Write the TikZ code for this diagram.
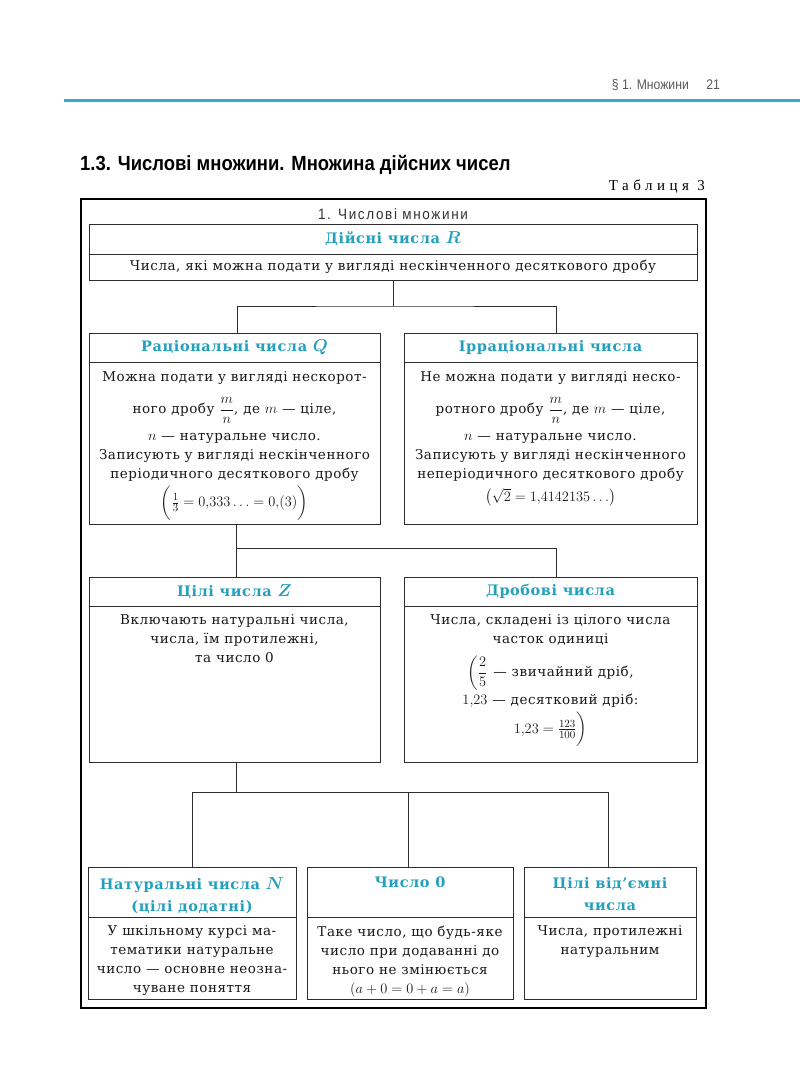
\documentclass[tikz,border=0pt]{standalone}
\usepackage{fontspec}
\usepackage{amsmath}
\setmainfont{DejaVu Serif}[LetterSpace=4]
\newfontfamily\myCond[FakeStretch=0.87]{Liberation Sans}
\newfontfamily\myTitle[FakeStretch=0.9]{Liberation Sans}
\newfontfamily\myCondSp[FakeStretch=0.9,LetterSpace=11]{Liberation Sans}
\newfontfamily\mySpaced[LetterSpace=30]{Liberation Serif}
\DeclareMathSizes{13.5}{15.5}{11}{9}
\DeclareMathSizes{14.5}{16}{12}{10}
\usetikzlibrary{calc}
\definecolor{tealA}{RGB}{35,160,190}
\definecolor{tealLine}{RGB}{55,172,200}
\definecolor{lineC}{RGB}{45,45,45}
\definecolor{textC}{RGB}{25,25,25}
\newcommand\myBody{\fontsize{13.5pt}{19pt}\selectfont}
\newcommand\myHead{\bfseries\fontsize{14.5pt}{22pt}\selectfont\boldmath}
\begin{document}
\begin{tikzpicture}[x=1pt,y=-1pt,
  box/.style={draw=lineC, line width=0.9pt, inner sep=0pt, outer sep=0pt, anchor=north west},
  hbox/.style={box, text=tealA, font=\myHead, align=center},
  htext/.style={text=tealA, font=\myHead, align=center, inner sep=0pt, anchor=north},
  btext/.style={text=textC, font=\myBody, align=center, inner sep=0pt, anchor=north},
  conn/.style={draw=lineC, line width=0.9pt}]
\useasboundingbox[fill=white] (0,0) rectangle (800,1082);

% page header
\draw[tealLine, line width=3pt] (64,100) -- (800,100);
\node[anchor=base east, inner sep=0pt, text=black!65, font=\myCond\fontsize{14pt}{16pt}\selectfont] (ph) at (689,89) {§ 1. Множини};
\node[anchor=base east, inner sep=0pt, text=black!65, font=\myCond\fontsize{14pt}{16pt}\selectfont] (pn) at (720,89) {21};

% title
\node[anchor=base west, inner sep=0pt, text=black, font=\myTitle\bfseries\fontsize{20.5pt}{24pt}\selectfont] (title) at (80,170) {1.3. Числові множини. Множина дійсних чисел};
\node[anchor=base east, inner sep=0pt, text=black, font=\mySpaced\fontsize{15pt}{17pt}\selectfont] (tab) at (705,190) {Таблиця 3};

% frame
\node[draw=black, line width=2.4pt, inner sep=0pt, anchor=north west, minimum width=625pt, minimum height=809pt] (frame) at (80,198) {};
\node[anchor=base, inner sep=0pt, text=black!80, font=\myCondSp\fontsize{15pt}{17pt}\selectfont] (ftitle) at (393,219) {1. Числові множини};

% real numbers
\node[hbox, minimum width=608pt, minimum height=30pt] (rh) at (89,224) {Дійсні числа $R$};
\node[box, minimum width=608pt, minimum height=26pt] (rb) at (89,254) {};
\node[btext, anchor=center] (rbt) at (rb.center) {Числа, які можна подати у вигляді нескінченного десяткового дробу};

% rational
\node[hbox, minimum width=291pt, minimum height=29pt] (qh) at (89,333) {Раціональні числа $Q$};
\node[box, minimum width=291pt, minimum height=162pt] (qb) at (89,362) {};
\node[btext] (qbt) at ($(qb.north)+(0,9.5)$) {Можна подати у вигляді нескорот-\\[13pt]
ного дробу $\dfrac{m}{n}$, де $m$ — ціле,\\[8pt]
$n$ — натуральне число.\\
Записують у вигляді нескінченного\\
періодичного десяткового дробу\\[3pt]
$\biggl(\frac{1}{3}=0{,}333\ldots=0{,}(3)\biggr)$};

% irrational
\node[hbox, minimum width=293pt, minimum height=29pt] (ih) at (404,333) {Ірраціональні числа};
\node[box, minimum width=293pt, minimum height=162pt] (ib) at (404,362) {};
\node[btext] (ibt) at ($(ib.north)+(0,9.5)$) {Не можна подати у вигляді неско-\\[13pt]
ротного дробу $\dfrac{m}{n}$, де $m$ — ціле,\\[8pt]
$n$ — натуральне число.\\
Записують у вигляді нескінченного\\
неперіодичного десяткового дробу\\[4pt]
$\bigl(\sqrt{2}=1{,}4142135\ldots\bigr)$};

% integers
\node[hbox, minimum width=291pt, minimum height=29pt] (zh) at (89,577) {Цілі числа $Z$};
\node[box, minimum width=291pt, minimum height=156pt] (zb) at (89,606) {};
\node[btext] (zbt) at ($(zb.north)+(0,8.5)$) {Включають натуральні числа,\\
числа, їм протилежні,\\
та число 0};

% fractions
\node[hbox, minimum width=293pt, minimum height=29pt] (fh) at (404,577) {Дробові числа};
\node[box, minimum width=293pt, minimum height=156pt] (fb) at (404,606) {};
\node[btext] (fbt) at ($(fb.north)+(0,8.5)$) {Числа, складені із цілого числа\\
часток одиниці\\[9pt]
$\left(\dfrac{2}{5}\right.$ — звичайний дріб,\\[3pt]
$1{,}23$ — десятковий дріб:\\[4pt]
$1{,}23=\frac{123}{100}\biggr)$};

% bottom row
\node[box, minimum width=208pt, minimum height=50pt] (nh) at (88,867) {};
\node[htext] (nht) at ($(nh.north)+(0,10)$) {Натуральні числа $N$\\(цілі додатні)};
\node[box, minimum width=208pt, minimum height=82pt] (nb) at (88,917) {};
\node[btext] (nbt) at ($(nb.north)+(0,8.5)$) {У шкільному курсі ма-\\
тематики натуральне\\
число — основне неозна-\\
чуване поняття};

\node[box, minimum width=206pt, minimum height=50pt] (oh) at (307,867) {};
\node[htext] (oht) at ($(oh.north)+(0,10)$) {Число 0};
\node[box, minimum width=206pt, minimum height=82pt] (ob) at (307,917) {};
\node[btext] (obt) at ($(ob.north)+(0,8.5)$) {Таке число, що будь-яке\\
число при додаванні до\\
нього не змінюється\\
$(a+0=0+a=a)$};

\node[box, minimum width=172pt, minimum height=50pt] (gh) at (524,867) {};
\node[htext] (ght) at ($(gh.north)+(0,10)$) {Цілі від’ємні\\числа};
\node[box, minimum width=172pt, minimum height=82pt] (gb) at (524,917) {};
\node[btext] (gbt) at ($(gb.north)+(0,8.5)$) {Числа, протилежні\\
натуральним};

% connectors
\coordinate (j1) at (393,306);
\draw[conn] (rb.south) -- (j1);
\draw[conn] ([xshift=2.5pt]qh.north) |- (j1) -| ([xshift=6pt]ih.north);

\coordinate (j2) at (236,548);
\draw[conn] ([xshift=1.5pt]qb.south) -- ([xshift=1.5pt]zh.north);
\draw[conn] (j2) -| ([xshift=5.5pt]fh.north);

\coordinate (j3) at (236,792);
\draw[conn] ([xshift=1.5pt]zb.south) -- (j3);
\draw[conn] (nh.north) |- ([xshift=-2pt]gh.north |- j3) -- ([xshift=-2pt]gh.north);
\draw[conn] ([xshift=-2pt]oh.north) -- ([xshift=-2pt]oh.north |- j3);
\end{tikzpicture}
\end{document}
